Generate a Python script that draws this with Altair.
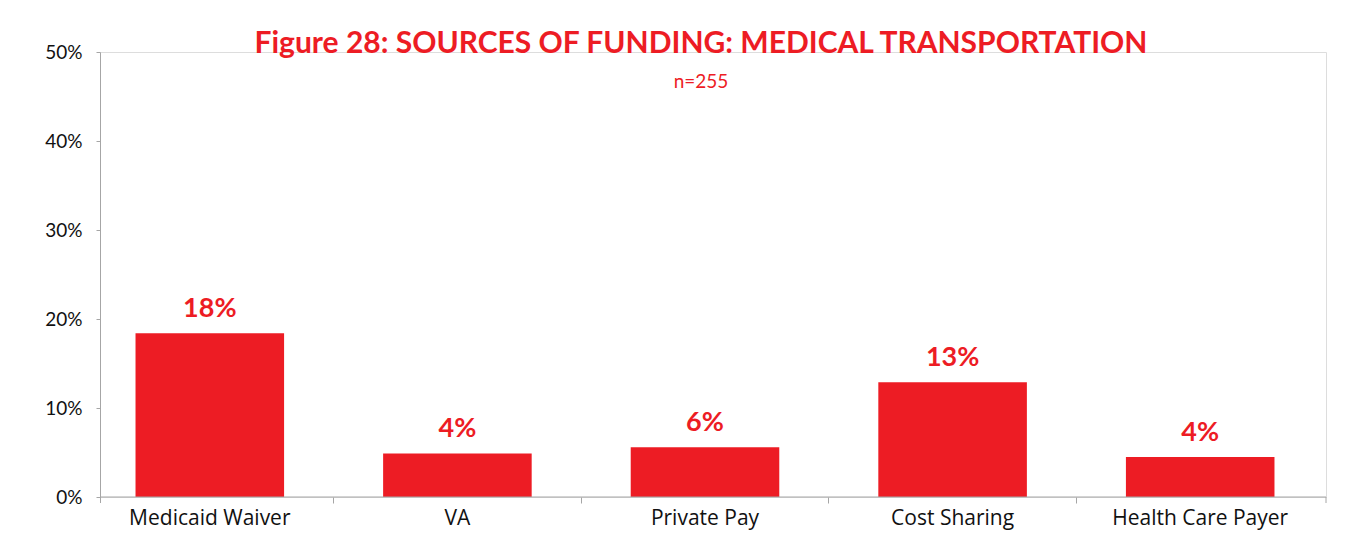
import altair as alt
import pandas as pd

categories = ["Medicaid Waiver", "VA", "Private Pay", "Cost Sharing", "Health Care Payer"]
values = [0.184, 0.049, 0.056, 0.129, 0.045]
labels = ["18%", "4%", "6%", "13%", "4%"]

df = pd.DataFrame({"source": categories, "value": values, "label": labels})

RED = "#ED1C24"
GRAY = "#A6A6A6"
FONT = "Lato"

base = alt.Chart(df).encode(
    x=alt.X("source:N", sort=categories, title=None,
            scale=alt.Scale(paddingInner=0, paddingOuter=0, range=[-14, 1224]),
            axis=alt.Axis(labelAngle=0, labelFont="Open Sans", labelFontSize=21, labelColor="#111111",
                          domain=False, tickColor=GRAY, tickSize=6,
                          tickOpacity={"condition": {"test": "datum.value === 'Medicaid Waiver'", "value": 0}, "value": 1},
                          bandPosition=0, labelPadding=4, grid=False)),
)

bars = base.mark_bar(color=RED, width=alt.RelativeBandSize(0.6)).encode(
    y=alt.Y("value:Q", title=None,
            scale=alt.Scale(domain=[0, 0.5]),
            axis=alt.Axis(format=".0%", values=[0, 0.1, 0.2, 0.3, 0.4, 0.5],
                          labelFont=FONT, labelFontSize=19, labelColor="#111111",
                          domainColor=GRAY, tickColor=GRAY, tickSize=4,
                          labelPadding=14, grid=False))
)

text = base.mark_text(color=RED, font=FONT, fontWeight="bold", fontSize=27,
                      baseline="bottom", dy=-10).encode(
    y=alt.Y("value:Q"),
    text="label:N",
)

frame = pd.DataFrame({"k": [0]})
x_domain = alt.Chart(frame).mark_rule(color=GRAY).encode(
    x=alt.value(0), x2=alt.value(1226), y=alt.value(445)
)
start_tick = alt.Chart(frame).mark_rule(color=GRAY).encode(
    x=alt.value(0.5), y=alt.value(445), y2=alt.value(451)
)
end_tick = alt.Chart(frame).mark_rule(color=GRAY).encode(
    x=alt.value(1226), y=alt.value(445), y2=alt.value(451)
)

chart = alt.layer(bars, text, x_domain, start_tick, end_tick).properties(
    width=1226, height=445,
    title=alt.TitleParams(
        text="Figure 28: SOURCES OF FUNDING: MEDICAL TRANSPORTATION",
        subtitle="n=255",
        font=FONT, fontSize=30, fontWeight="bold", color=RED,
        subtitleFont=FONT, subtitleFontSize=19, subtitleColor=RED,
        subtitlePadding=14,
        anchor="middle", offset=-49, dx=-12,
    ),
    autosize=alt.AutoSizeParams(type="none"),
    padding={"left": 92, "top": 44, "right": 20, "bottom": 40},
).configure_view(stroke=None).configure(background="white")

chart.save("out.html", embed_options={"renderer": "svg", "actions": False})
